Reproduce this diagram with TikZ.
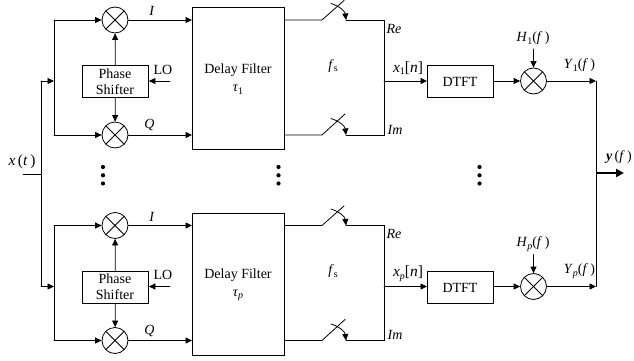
\documentclass[tikz,border=0pt]{standalone}
\usepackage{fontspec}
\setmainfont{Liberation Serif}
\usetikzlibrary{arrows.meta,calc}
\newcommand{\subs}[1]{\raisebox{-2.5pt}{\fontsize{10}{10}\selectfont #1}}
\tikzset{
  every node/.style={font=\fontsize{14}{16}\selectfont},
  wire/.style={line width=0.8pt,line cap=round},
  arr/.style={wire,-{Triangle[length=6.5pt,width=6pt]}},
  box/.style={draw,line width=0.9pt,inner sep=0pt,anchor=north west},
  mixer/.style={circle,draw,line width=0.8pt,inner sep=0pt,minimum size=26pt,
    path picture={\draw[line width=0.8pt] (path picture bounding box.north west)--(path picture bounding box.south east)
      (path picture bounding box.north east)--(path picture bounding box.south west);}},
  lbl/.style={inner sep=0pt},
  biglbl/.style={inner sep=0pt,font=\fontsize{15.5}{16}\selectfont},
  dot/.style={circle,fill=black,inner sep=0pt,minimum size=4.2pt}
}
\begin{document}
\begin{tikzpicture}[x=1pt,y=-1pt]
\useasboundingbox (0,0) rectangle (634,361);
\foreach \s/\yo/\st in {1/0/1,p/205.5/\textit{p}}{
\begin{scope}[shift={(0,\yo)}]
  \node[mixer] (mi\s) at (115,20) {};
  \node[mixer] (mq\s) at (115,135) {};
  \node[box,minimum width=66pt,minimum height=32pt,align=center] (ps\s) at (82,65) {};
  \node[lbl] (pa\s) at (115,73.5) {Phase};
  \node[lbl] (pb\s) at (115,89.5) {Shifter};
  \node[box,minimum width=92pt,minimum height=142pt] (df\s) at (192,7) {};
  \node[lbl] (da\s) at (238,70) {Delay Filter};
  \node[lbl] (db\s) at (238,90) {\textit{τ}\subs{\st}};
  \node[lbl] (lo\s) at (163,69.5) {LO};
  \coordinate (lof\s) at (170,81);
  \node[lbl] (il\s) at (152,11) {\textit{I}};
  \node[lbl] (ql\s) at (149.5,125) {\textit{Q}};
  \coordinate (bt\s) at (54,20);
  \coordinate (bb\s) at (54,135);
  \coordinate (bm\s) at (54,81);
  \draw[wire] (bt\s) -- (bb\s);
  \draw[arr] (bt\s) -- (mi\s);
  \draw[arr] (bb\s) -- (mq\s);
  \draw[arr] (ps\s) -- (mi\s);
  \draw[arr] (ps\s) -- (mq\s);
  \draw[arr] (lof\s) -- (ps\s.east |- lof\s);
  \draw[arr] (mi\s) -- (mi\s -| df\s.west);
  \draw[arr] (mq\s) -- (mq\s -| df\s.west);
  % switches
  \coordinate (sia\s) at (322,20);
  \coordinate (sib\s) at (346,20);
  \coordinate (sic\s) at (344,0.5);
  \coordinate (sqa\s) at (322,135);
  \coordinate (sqb\s) at (346,135);
  \coordinate (sqc\s) at (345,114);
  \coordinate (re\s) at (384,20);
  \coordinate (im\s) at (384,135);
  \coordinate (mid\s) at (384,81);
  \draw[wire] (mi\s -| df\s.east) -- (sia\s) -- (sic\s);
  \draw[wire] (mq\s -| df\s.east) -- (sqa\s) -- (sqc\s);
  \draw[wire] (sib\s) -- (re\s) -- (im\s) -- (sqb\s);
  \draw[arr] (331,3.5) .. controls (339,6) and (345,11) .. (sib\s);
  \draw[arr] (331,118.5) .. controls (339,121) and (345,126) .. (sqb\s);
  \node[lbl] (fs\s) at (333,66) {\textit{f}\subs{s}};
  \node[lbl] (rl\s) at (394,28.5) {\textit{Re}};
  \node[lbl] (iml\s) at (395,129.5) {\textit{Im}};
  \node[biglbl] (xl\s) at (408,68) {\textit{x}\subs{\st}[\textit{n}]};
  \node[box,minimum width=66pt,minimum height=32pt] (dt\s) at (427,65) {};
  \node[lbl] (dtl\s) at (460,82) {DTFT};
  \node[mixer] (mh\s) at (533.5,81) {};
  \coordinate (hf\s) at (533.5,49);
  \node[lbl] (hl\s) at (533,38.5) {\textit{H}\subs{\st}(\textit{f}\,)};
  \node[lbl] (yl\s) at (579.5,65.5) {\textit{Y}\subs{\st}(\textit{f}\,)};
  \coordinate (oe\s) at (596,81);
  \draw[arr] (mid\s) -- (dt\s.west |- mid\s);
  \draw[arr] (dt\s.east |- mid\s) -- (mh\s);
  \draw[arr] (hf\s) -- (mh\s);
  \draw[arr] (mh\s) -- (oe\s);
\end{scope}
}
\coordinate (in) at (23,174);
\coordinate (vj) at (41,174);
\coordinate (vt) at (41,81);
\coordinate (vb) at (41,286.5);
\draw[wire] (in) -- (vj);
\draw[wire] (vb) -- (vt);
\draw[arr] (vt) -- (bm1);
\draw[arr] (vb) -- (bmp);
\node[biglbl] (xt) at (22,162) {\textit{x}\,(\textit{t}\,)};
\draw[wire] (oe1) -- (oep);
\coordinate (oj) at (oe1 |- 0,173);
\coordinate (yo) at (624,173);
\draw[line width=2.4pt,-{Triangle[length=8pt,width=8pt]}] (oj) -- (yo);
\node[lbl] (yf) at (619,157) {\textit{\textbf{y}}\,(\textit{f}\,)};
\foreach \n/\x in {a/103,b/278.5,c/479.5}{
  \node[dot] (d1\n) at (\x,167) {};
  \node[dot] (d2\n) at (\x,175.3) {};
  \node[dot] (d3\n) at (\x,183.5) {};
}
\end{tikzpicture}
\end{document}
